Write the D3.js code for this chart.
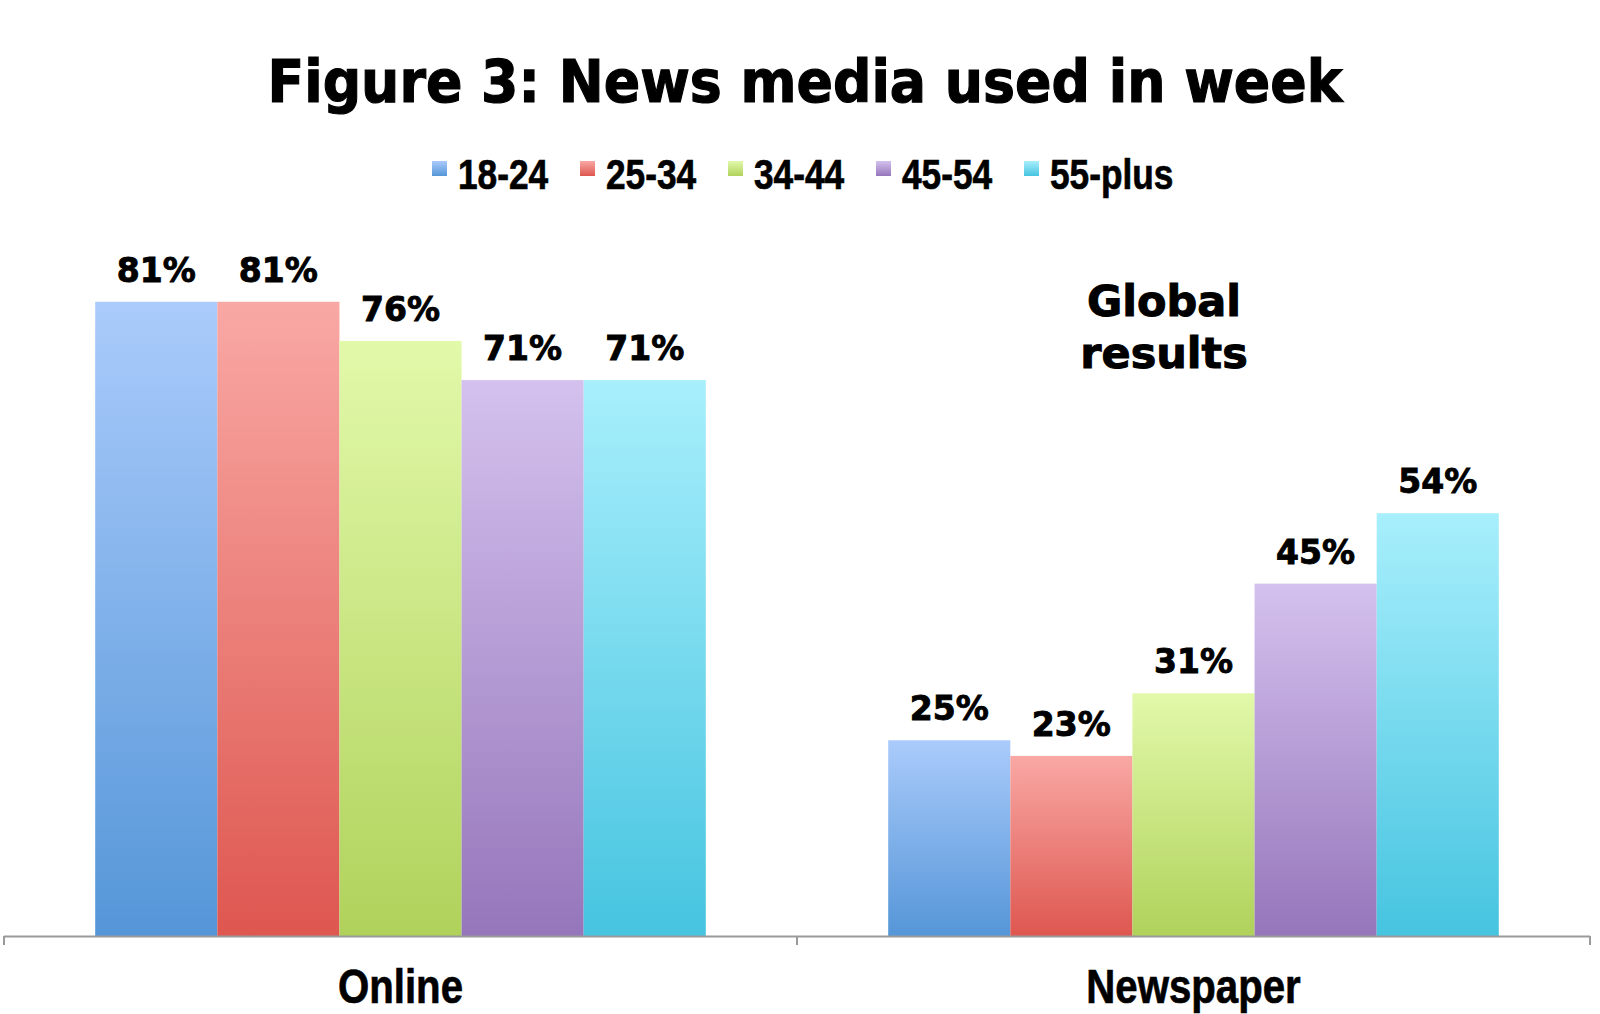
<!DOCTYPE html>
<html>
<head>
<meta charset="utf-8">
<script src="https://cdn.jsdelivr.net/npm/d3@7"></script>
<style>
  html, body { margin: 0; padding: 0; background: #fff; }
  svg { display: block; }
</style>
</head>
<body>
<svg id="chart" width="1600" height="1014"></svg>
<script>
// values
var categories = ["Online", "Newspaper"];
var ageGroups = ["18-24", "25-34", "34-44", "45-54", "55-plus"];
var online = [81, 81, 76, 71, 71];
var newspaper = [25, 23, 31, 45, 54];
var seriesValues = [online, newspaper];

// gradient ends per age group (top light, bottom dark)
var topColors = ["#aacbfb", "#f9a8a4", "#e2f9aa", "#d4c1ee", "#a8effc"];
var bottomColors = ["#5596d8", "#de5750", "#b0d25b", "#9676bb", "#46c4e0"];

var svg = d3.select("#chart");
// no narrow font installed, so Liberation Sans bold squeezed horizontally
var narrow = "'Liberation Sans', Arial, sans-serif";
var heavy = "'DejaVu Sans', 'Liberation Sans', sans-serif";
var squeeze = 0.82;

var defs = svg.append("defs");
ageGroups.forEach(function(g, i) {
  var grad = defs.append("linearGradient")
    .attr("id", "grad" + i)
    .attr("x1", 0).attr("y1", 0).attr("x2", 0).attr("y2", 1);
  grad.append("stop").attr("offset", "0%").attr("stop-color", topColors[i]);
  grad.append("stop").attr("offset", "100%").attr("stop-color", bottomColors[i]);
});

var x0 = d3.scaleBand()
  .domain(categories)
  .range([4, 1590])
  .paddingInner(0.23)
  .paddingOuter(0.115);

var x1 = d3.scaleBand()
  .domain(ageGroups)
  .range([0, x0.bandwidth()]);

var y = d3.scaleLinear()
  .domain([0, 100])
  .range([936, 153]);

// title
svg.append("text")
  .attr("x", 805)
  .attr("y", 102)
  .attr("text-anchor", "middle")
  .attr("textLength", 1075)
  .attr("lengthAdjust", "spacingAndGlyphs")
  .style("font-family", heavy)
  .style("font-weight", "bold")
  .style("font-size", "58px")
  .style("stroke", "#000")
  .style("stroke-width", "1.2px")
  .text("Figure 3: News media used in week");

// legend
var legendX = d3.scaleLinear().domain([0, ageGroups.length - 1]).range([432, 1024]);
var legend = svg.append("g");
ageGroups.forEach(function(g, i) {
  legend.append("rect")
    .attr("x", legendX(i))
    .attr("y", 161)
    .attr("width", 15)
    .attr("height", 15)
    .attr("fill", "url(#grad" + i + ")");
  legend.append("text")
    .attr("transform", "translate(" + (legendX(i) + 26) + ",189) scale(" + squeeze + ",1)")
    .style("font-family", narrow)
    .style("font-weight", "bold")
    .style("font-size", "43px")
    .style("stroke", "#000")
    .style("stroke-width", "0.7px")
    .text(g);
});

// bars
var groups = svg.selectAll("g.cat")
  .data(categories)
  .enter().append("g")
  .attr("class", "cat")
  .attr("transform", function(d) { return "translate(" + x0(d) + ",0)"; });

groups.selectAll("rect")
  .data(function(d, ci) { return seriesValues[ci].map(function(v, i) { return { g: ageGroups[i], i: i, v: v }; }); })
  .enter().append("rect")
  .attr("x", function(d) { return x1(d.g); })
  .attr("y", function(d) { return y(d.v); })
  .attr("width", x1.bandwidth())
  .attr("height", function(d) { return y(0) - y(d.v); })
  .attr("fill", function(d) { return "url(#grad" + d.i + ")"; });

groups.selectAll("text.val")
  .data(function(d, ci) { return seriesValues[ci].map(function(v, i) { return { g: ageGroups[i], v: v }; }); })
  .enter().append("text")
  .attr("class", "val")
  .attr("x", function(d) { return x1(d.g) + x1.bandwidth() / 2; })
  .attr("y", function(d) { return y(d.v) - 20; })
  .attr("text-anchor", "middle")
  .style("font-family", heavy)
  .style("font-weight", "bold")
  .style("font-size", "33px")
  .style("stroke", "#000")
  .style("stroke-width", "0.9px")
  .text(function(d) { return d.v + "%"; });

// category axis with ticks at band edges
var half = (x0.step() - x0.bandwidth()) / 2;
var edges = categories.map(function(c) { return x0(c) - half; });
edges.push(x0(categories[categories.length - 1]) + x0.bandwidth() + half);

svg.append("line")
  .attr("x1", edges[0]).attr("x2", edges[edges.length - 1])
  .attr("y1", y(0) + 0.5).attr("y2", y(0) + 0.5)
  .attr("stroke", "#9a9a9a").attr("stroke-width", 2);

svg.selectAll("line.tick")
  .data(edges)
  .enter().append("line")
  .attr("class", "tick")
  .attr("x1", function(d) { return d; }).attr("x2", function(d) { return d; })
  .attr("y1", y(0)).attr("y2", y(0) + 9)
  .attr("stroke", "#9a9a9a").attr("stroke-width", 2);

svg.selectAll("text.cat")
  .data(categories)
  .enter().append("text")
  .attr("class", "cat")
  .attr("transform", function(d) {
    return "translate(" + (x0(d) + x0.bandwidth() / 2) + ",1003) scale(" + squeeze + ",1)";
  })
  .attr("text-anchor", "middle")
  .style("font-family", narrow)
  .style("font-weight", "bold")
  .style("font-size", "49px")
  .style("stroke", "#000")
  .style("stroke-width", "0.7px")
  .text(function(d) { return d; });

// annotation
var note = svg.append("text")
  .attr("text-anchor", "middle")
  .style("font-family", heavy)
  .style("font-weight", "bold")
  .style("font-size", "43px")
  .style("stroke", "#000")
  .style("stroke-width", "1px");
note.append("tspan").attr("x", 1164).attr("y", 316).text("Global");
note.append("tspan").attr("x", 1164).attr("y", 368).text("results");
</script>
</body>
</html>
